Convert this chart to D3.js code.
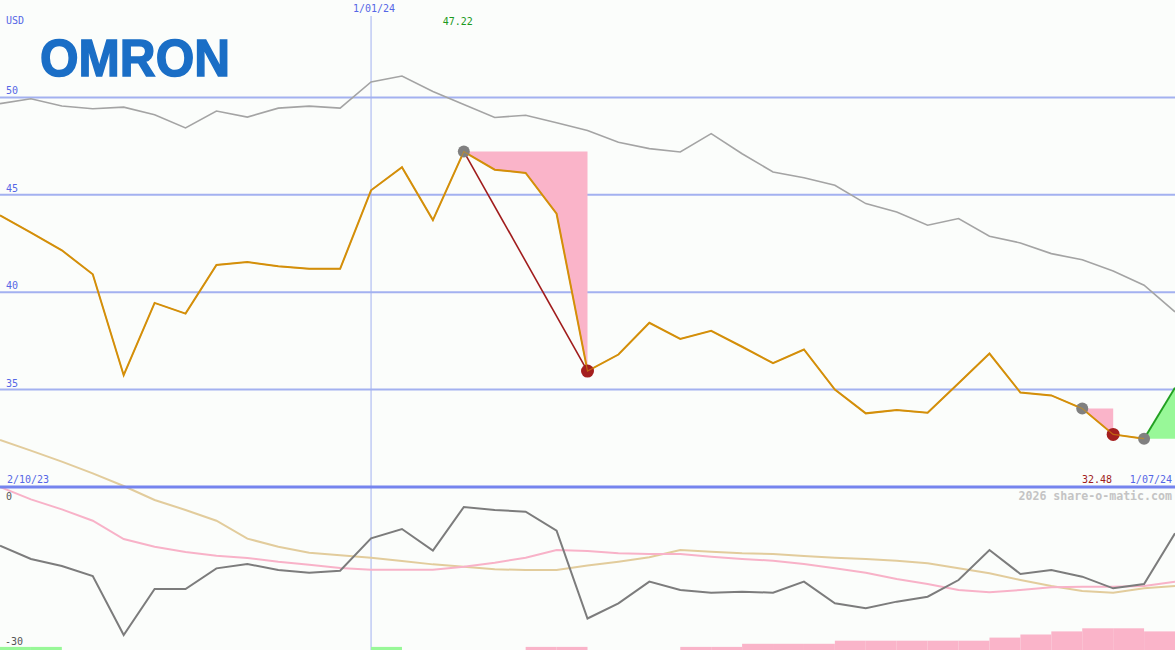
<!DOCTYPE html>
<html><head><meta charset="utf-8">
<script src="https://cdn.jsdelivr.net/npm/d3@7"></script>
<style>html,body{margin:0;padding:0;background:#fbfdfb;overflow:hidden}</style>
</head><body>
<svg id="c" width="1175" height="650"></svg>
<script>
// ---- data ----
const price = [43.95, 43.06, 42.15, 40.92, 35.74, 39.45, 38.9, 41.4, 41.55, 41.33, 41.2, 41.2, 45.23, 46.42, 43.7, 47.22, 46.29, 46.12, 44.03, 35.95, 36.8, 38.43, 37.6, 38.02, 37.2, 36.36, 37.06, 35.0, 33.78, 33.95, 33.81, 35.33, 36.85, 34.85, 34.7, 34.03, 32.7, 32.48, 35.1];
const avgLine = [49.68, 49.93, 49.56, 49.42, 49.5, 49.11, 48.43, 49.3, 48.99, 49.45, 49.55, 49.45, 50.79, 51.1, 50.3, 49.64, 48.97, 49.08, 48.7, 48.3, 47.7, 47.37, 47.2, 48.14, 47.11, 46.17, 45.88, 45.49, 44.55, 44.12, 43.44, 43.78, 42.87, 42.53, 41.98, 41.67, 41.09, 40.36, 38.99];
const oscGrey = [-10.8, -13.25, -14.54, -16.38, -27.24, -18.77, -18.77, -14.97, -14.17, -15.28, -15.77, -15.4, -9.45, -7.73, -11.72, -3.68, -4.23, -4.54, -8.04, -24.2, -21.41, -17.42, -18.96, -19.45, -19.27, -19.45, -17.42, -21.41, -22.33, -21.1, -20.19, -17.12, -11.6, -16.01, -15.28, -16.5, -18.65, -17.85, -8.53];
const oscPink = [0, -2.27, -4.11, -6.2, -9.57, -10.98, -11.96, -12.64, -13.07, -13.75, -14.3, -14.9, -15.22, -15.22, -15.22, -14.67, -13.93, -13.01, -11.6, -11.8, -12.2, -12.33, -12.33, -12.82, -13.25, -13.56, -14.17, -14.97, -15.77, -16.93, -17.85, -18.96, -19.39, -18.96, -18.46, -18.35, -18.35, -18.22, -17.42];
const oscTan = [8.65, 6.69, 4.66, 2.52, 0.18, -2.39, -4.23, -6.2, -9.51, -10.98, -12.09, -12.58, -13.01, -13.62, -14.24, -14.67, -15.15, -15.28, -15.28, -14.45, -13.75, -12.94, -11.6, -11.9, -12.2, -12.33, -12.7, -13.01, -13.25, -13.56, -14.05, -14.97, -15.89, -17.12, -18.22, -19.14, -19.45, -18.65, -18.22];
const streak = [1,1,0,0,0,0,0,0,0,0,0,0,1,0,0,0,0,-1,-1,0,0,0,-1,-1,-2,-2,-2,-3,-3,-3,-3,-3,-4,-5,-6,-7,-7,-6];
const priceTicks = [50, 45, 40, 35];
const oscTicks = [0, -30];
const startLabel = "2/10/23", endLabel = "1/07/24";
const midLabel = "1/01/24", midIndex = 12;
const peaks = [15, 35, 37];      // grey markers
const troughs = [19, 36];        // red markers
const drops = [[15, 19], [35, 36]];
const rise = [37, 38];

// ---- scales ----
const W = 1175, H = 650;
const svg = d3.select("#c");
svg.append("rect").attr("width", W).attr("height", H).attr("fill", "#fbfdfb");
const x = d3.scaleLinear().domain([0, price.length - 1]).range([0, W]);
const y = d3.scaleLinear().domain([30, 55]).range([487, 0]);
const yo = d3.scaleLinear().domain([-30, 0]).range([650, 487]);
const hb = d3.scaleLinear().domain([0, 10]).range([0, 31]);
const mono = "'DejaVu Sans Mono', monospace";

// grid
svg.append("g").selectAll("line").data(priceTicks).join("line")
  .attr("x1", 0).attr("x2", W).attr("y1", d => y(d)).attr("y2", d => y(d))
  .attr("stroke", "#a3b1f0").attr("stroke-width", 2);
svg.append("line").attr("x1", x(midIndex)).attr("x2", x(midIndex)).attr("y1", 16).attr("y2", H)
  .attr("stroke", "#a3b1f0").attr("stroke-width", 1);

// fills
drops.forEach(([a, b]) => {
  const idx = d3.range(a, b + 1);
  svg.append("path").datum(idx)
    .attr("d", d3.area().x(i => x(i)).y0(() => y(price[a])).y1(i => y(price[i])))
    .attr("fill", "#fab4c9");
});
{
  const idx = d3.range(rise[0], rise[1] + 1);
  svg.append("path").datum(idx)
    .attr("d", d3.area().x(i => x(i)).y0(() => y(price[rise[0]])).y1(i => y(price[i])))
    .attr("fill", "#98f898");
}

const line = arr => d3.line().x((d, i) => x(i)).y(d => y(d))(arr);
svg.append("path").attr("d", line(avgLine)).attr("fill", "none").attr("stroke", "#a4a4a4").attr("stroke-width", 1.6);
const pl = d3.line().x(i => x(i)).y(i => y(price[i]));
svg.append("path").attr("d", pl(d3.range(0, rise[0] + 1))).attr("fill", "none").attr("stroke", "#d48f0a").attr("stroke-width", 2);
svg.append("path").attr("d", pl(drops[0])).attr("fill", "none").attr("stroke", "#a01c1c").attr("stroke-width", 1.6);
svg.append("path").attr("d", pl(rise)).attr("fill", "none").attr("stroke", "#22a022").attr("stroke-width", 2);

svg.append("g").selectAll("circle").data(peaks).join("circle")
  .attr("cx", i => x(i)).attr("cy", i => y(price[i])).attr("r", 6).attr("fill", "#808080");
svg.append("g").selectAll("circle").data(troughs).join("circle")
  .attr("cx", i => x(i)).attr("cy", i => y(price[i])).attr("r", 6.5).attr("fill", "#a41e1e");
svg.append("path").attr("d", pl(d3.range(0, rise[0] + 1))).attr("fill", "none").attr("stroke", "#d48f0a").attr("stroke-width", 1.2).attr("opacity", 0.6);

// lower panel
const ol = d3.line().x((d, i) => x(i)).y(d => yo(d));
svg.append("path").attr("d", ol(oscTan)).attr("fill", "none").attr("stroke", "#e2cc9c").attr("stroke-width", 2);
svg.append("path").attr("d", ol(oscPink)).attr("fill", "none").attr("stroke", "#f8b2c8").attr("stroke-width", 2);
svg.append("path").attr("d", ol(oscGrey)).attr("fill", "none").attr("stroke", "#7c7c7c").attr("stroke-width", 2);
svg.append("line").attr("x1", 0).attr("x2", W).attr("y1", yo(0)).attr("y2", yo(0))
  .attr("stroke", "#7584ee").attr("stroke-width", 3);

svg.append("g").selectAll("rect").data(streak.map((v, i) => ({v, i})).filter(d => d.v !== 0)).join("rect")
  .attr("x", d => x(d.i)).attr("width", d => x(d.i + 1) - x(d.i))
  .attr("y", d => H - hb(Math.abs(d.v))).attr("height", d => hb(Math.abs(d.v)))
  .attr("fill", d => d.v > 0 ? "#98f898" : "#fab4c9");

// text
const T = (t, px, py, col, anchor, extra) => {
  const e = svg.append("text").text(t).attr("x", px).attr("y", py).attr("fill", col)
    .attr("font-family", mono).attr("font-size", 10).attr("text-anchor", anchor || "start");
  if (extra) extra(e);
  return e;
};
T("USD", 6, 24, "#5567e6");
priceTicks.forEach(v => T(String(v), 6, y(v) - 3, "#5567e6"));
T(midLabel, x(midIndex) + 3, 12, "#5567e6", "middle");
T(price[15].toFixed(2), x(15) - 6, 25, "#1d9a1d", "middle");
T(startLabel, 7, 483, "#5567e6");
T(price[37].toFixed(2), 1112, 483, "#a01c1c", "end");
T(endLabel, 1172, 483, "#5567e6", "end");
T("2026 share-o-matic.com", 1172, 500, "#c4c4c4", "end", e => e.attr("font-size", 11.6).attr("font-weight", "bold"));
T(String(oscTicks[0]), 6, 500, "#555");
T(String(oscTicks[1]), 5, 645, "#555");

// logo
svg.append("text").text("OMRON").attr("x", 40).attr("y", 76)
  .attr("font-family", "'Liberation Sans', Arial, sans-serif").attr("font-weight", "bold")
  .attr("font-size", 52).attr("fill", "#1a6ec6")
  .attr("stroke", "#1a6ec6").attr("stroke-width", 1.5)
  .attr("textLength", 190).attr("lengthAdjust", "spacingAndGlyphs");
</script>
</body></html>
